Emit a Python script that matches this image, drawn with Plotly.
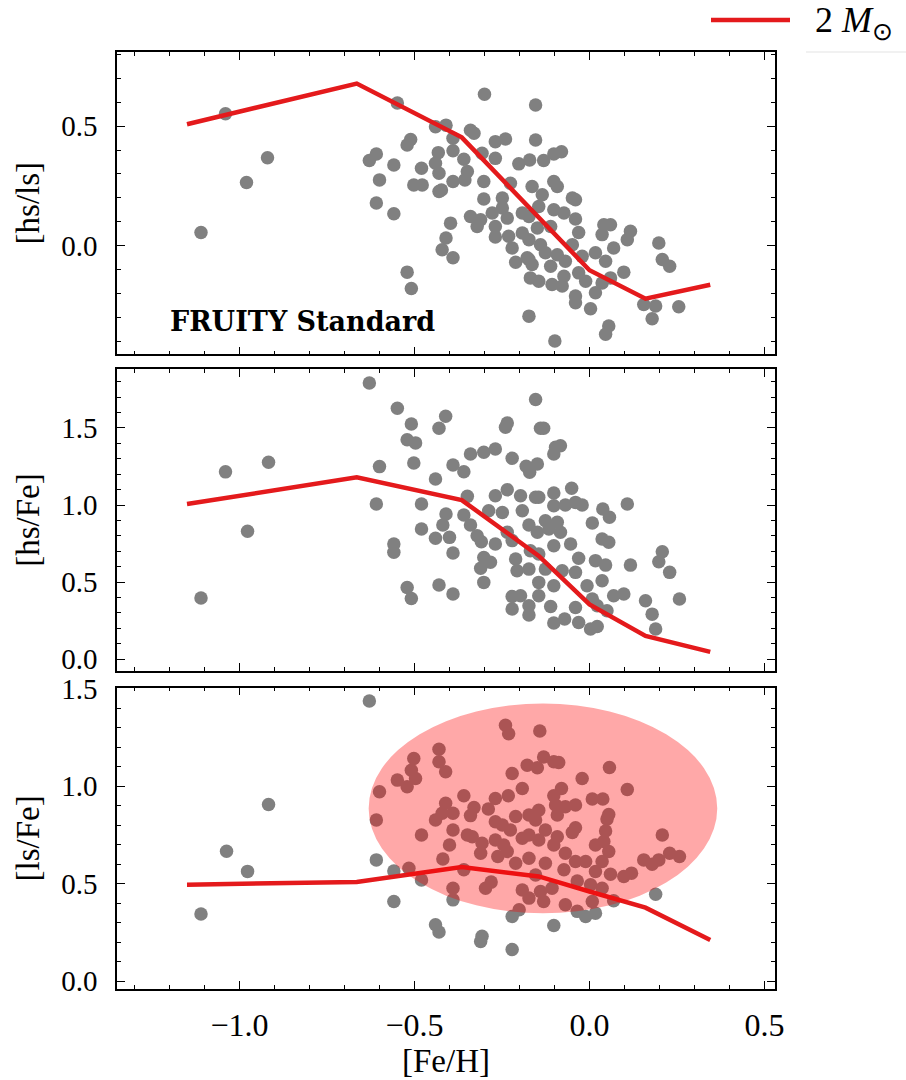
import plotly.graph_objects as go

# ---------------- observed stars ----------------
# top panel: [Fe/H] vs [hs/ls]
feh_top = [-1.11, -1.04, -0.98, -0.92,
           -0.549, -0.30, -0.154, -0.44, -0.41, -0.34, -0.33, -0.511, -0.521, -0.39, -0.269, -0.24,
           -0.154, -0.609, -0.629, -0.559, -0.432, -0.39, -0.44, -0.359, -0.307, -0.269, -0.202,
           -0.171, -0.48, -0.43, -0.349, -0.60, -0.502, -0.478, -0.423, -0.43, -0.39, -0.356,
           -0.302, -0.226, -0.164, -0.609, -0.559, -0.302, -0.249, -0.34, -0.311, -0.321, -0.278,
           -0.269, -0.235, -0.249, -0.192, -0.397, -0.269, -0.231, -0.192, -0.173, -0.41, -0.421,
           -0.39, -0.221, -0.211, -0.178, -0.169, -0.521, -0.509, -0.173, -0.164,
           -0.131, -0.102, -0.08, -0.135, -0.102, -0.092, -0.049, -0.04, -0.145, -0.102, -0.073,
           -0.04, -0.173, -0.149, -0.111, -0.031, 0.041, 0.06, 0.036, 0.117, 0.108, 0.198, -0.14,
           -0.173, -0.126, -0.092, -0.049, -0.111, -0.069, -0.021, 0.017, 0.046, 0.069, 0.098,
           0.208, 0.229, -0.145, -0.107, -0.073, -0.078, -0.031, -0.011, -0.04, -0.04, 0.003,
           0.017, 0.036, 0.06, 0.055, 0.046, -0.099, 0.155, 0.189, 0.179, 0.255]
hsls_top = [0.055, 0.552, 0.264, 0.368,
            0.597, 0.633, 0.588, 0.497, 0.504, 0.483, 0.47, 0.444, 0.421, 0.449, 0.435, 0.446,
            0.442, 0.383, 0.356, 0.337, 0.389, 0.397, 0.345, 0.361, 0.386, 0.365, 0.342,
            0.358, 0.324, 0.303, 0.31, 0.275, 0.254, 0.254, 0.233, 0.226, 0.268, 0.275,
            0.268, 0.261, 0.247, 0.178, 0.133, 0.195, 0.199, 0.122, 0.108, 0.08, 0.136,
            0.08, 0.115, 0.157, 0.136, 0.094, 0.036, 0.039, 0.053, 0.025, 0.032, -0.017,
            -0.051, -0.01, -0.07, -0.051, -0.135, -0.111, -0.179, -0.295, -0.079,
            0.356, 0.383, 0.393, 0.213, 0.268, 0.247, 0.199, 0.192, 0.164, 0.15, 0.136,
            0.111, 0.122, 0.074, 0.08, 0.055, 0.087, 0.087, 0.046, 0.06, 0.025, 0.011, 0.004,
            -0.058, -0.03, -0.038, 0.004, -0.086, -0.065, -0.045, -0.03, -0.065, -0.01, -0.111,
            -0.058, -0.086, -0.149, -0.163, -0.128, -0.169, -0.114, -0.149, -0.211, -0.239, -0.264,
            -0.197, -0.156, -0.135, -0.336, -0.371, -0.399, -0.246, -0.253, -0.306, -0.256]

# middle panel: [Fe/H] vs [hs/Fe]
feh_mid = [-1.11, -1.04, -0.977, -0.917,
           -0.629, -0.549, -0.509, -0.43, -0.411, -0.521, -0.497, -0.235, -0.24, -0.154, -0.60,
           -0.502, -0.39, -0.359, -0.34, -0.302, -0.269, -0.221, -0.181, -0.171, -0.44, -0.609,
           -0.48, -0.349, -0.269, -0.235, -0.197, -0.154, -0.41, -0.359, -0.34, -0.288, -0.249,
           -0.192, -0.173, -0.48, -0.419, -0.44, -0.40, -0.321, -0.309, -0.269, -0.235, -0.221,
           -0.559, -0.559, -0.39, -0.302, -0.283, -0.311, -0.211, -0.207, -0.173, -0.302, -0.521,
           -0.509, -0.43, -0.39, -0.221, -0.197, -0.221, -0.173, -0.173,
           -0.14, -0.131, -0.097, -0.083, -0.102, -0.149, -0.145, -0.102, -0.051, -0.102, -0.069,
           -0.04, -0.021, 0.038, 0.057, 0.008, 0.108, -0.126, -0.092, -0.116, -0.083, -0.149,
           -0.102, -0.054, 0.036, 0.055, -0.169, -0.145, -0.031, 0.017, 0.046, 0.117, 0.208,
           0.198, 0.229, -0.126, -0.078, -0.04, -0.145, -0.102, -0.007, 0.036, 0.069, 0.098,
           0.008, -0.145, -0.111, -0.04, 0.022, 0.05, -0.102, -0.071, -0.031, 0.003, 0.022,
           0.16, 0.179, 0.189, 0.257]
hsfe_mid = [0.396, 1.215, 0.83, 1.278,
            1.792, 1.628, 1.526, 1.498, 1.576, 1.424, 1.403, 1.532, 1.504, 1.684, 1.249,
            1.273, 1.26, 1.216, 1.331, 1.342, 1.364, 1.303, 1.251, 1.212, 1.169, 1.006,
            1.006, 1.056, 1.06, 1.099, 1.06, 1.05, 0.942, 0.935, 0.87, 0.963, 0.952,
            0.963, 0.87, 0.844, 0.87, 0.784, 0.79, 0.801, 0.762, 0.747, 0.823, 0.769,
            0.747, 0.693, 0.688, 0.66, 0.628, 0.589, 0.649, 0.573, 0.584, 0.498, 0.465,
            0.394, 0.481, 0.422, 0.407, 0.411, 0.325, 0.346, 0.286,
            1.498, 1.498, 1.375, 1.385, 1.331, 1.266, 1.05, 1.078, 1.108, 0.995, 1.0,
            1.017, 1.0, 0.974, 0.92, 0.883, 1.006, 0.898, 0.888, 0.844, 0.823, 0.823,
            0.736, 0.747, 0.779, 0.758, 0.703, 0.682, 0.654, 0.639, 0.61, 0.61, 0.697,
            0.632, 0.563, 0.584, 0.573, 0.563, 0.498, 0.476, 0.476, 0.509, 0.411, 0.422,
            0.39, 0.411, 0.342, 0.335, 0.346, 0.314, 0.234, 0.26, 0.238, 0.195, 0.212,
            0.379, 0.292, 0.195, 0.39]

# bottom panel: [Fe/H] vs [ls/Fe]
feh_bot = [-1.11, -1.037, -0.977, -0.917, -0.629,
           -0.24, -0.231, -0.43, -0.43, -0.411, -0.502, -0.509, -0.549, -0.521, -0.497, -0.60,
           -0.609, -0.221, -0.178, -0.192, -0.232, -0.269, -0.359, -0.411, -0.39, -0.33, -0.34,
           -0.289, -0.44, -0.421, -0.39, -0.48, -0.269, -0.249, -0.226, -0.211, -0.173, -0.349,
           -0.335, -0.307, -0.269, -0.245, -0.192, -0.173, -0.40, -0.311, -0.262, -0.235, -0.211,
           -0.173, -0.419, -0.609, -0.559, -0.516, -0.48, -0.359, -0.39, -0.297, -0.281, -0.192,
           -0.173, -0.559, -0.39, -0.201, -0.221, -0.44, -0.43, -0.307, -0.311, -0.221,
           -0.142, -0.131, -0.102, -0.088, -0.149, 0.057, -0.021, 0.108, -0.08, -0.102, 0.008,
           0.038, -0.145, -0.097, -0.069, -0.04, -0.154, -0.092, 0.055, 0.05, 0.046, -0.049,
           -0.04, -0.126, 0.208, -0.145, -0.092, -0.102, 0.041, 0.017, 0.055, -0.069, -0.126,
           -0.04, -0.011, 0.036, 0.155, 0.179, 0.198, 0.229, 0.257, -0.073, -0.154, 0.017,
           0.06, 0.098, 0.12, -0.035, -0.107, 0.003, 0.036, -0.14, -0.131, -0.069, 0.008,
           0.069, 0.189, -0.035, -0.011, 0.017, -0.102]
lsfe_bot = [0.344, 0.666, 0.563, 0.906, 1.437,
            1.312, 1.269, 1.189, 1.125, 1.074, 1.142, 1.082, 1.031, 0.997, 1.039, 0.971,
            0.826, 1.065, 1.107, 0.988, 0.951, 0.937, 0.951, 0.912, 0.861, 0.89, 0.849,
            0.883, 0.826, 0.861, 0.775, 0.75, 0.818, 0.801, 0.775, 0.844, 0.852, 0.75,
            0.741, 0.707, 0.724, 0.698, 0.733, 0.75, 0.698, 0.656, 0.639, 0.665, 0.605,
            0.63, 0.627, 0.622, 0.565, 0.579, 0.519, 0.571, 0.477, 0.477, 0.508, 0.468,
            0.426, 0.409, 0.417, 0.366, 0.332, 0.289, 0.252, 0.23, 0.204, 0.162,
            1.283, 1.15, 1.125, 1.121, 1.094, 1.096, 1.039, 0.983, 0.988, 0.951, 0.934,
            0.934, 0.877, 0.903, 0.895, 0.903, 0.826, 0.852, 0.855, 0.831, 0.77, 0.763,
            0.787, 0.775, 0.75, 0.724, 0.741, 0.698, 0.716, 0.698, 0.665, 0.656, 0.605,
            0.614, 0.614, 0.614, 0.622, 0.6, 0.622, 0.656, 0.639, 0.571, 0.545, 0.562,
            0.548, 0.537, 0.554, 0.514, 0.477, 0.494, 0.477, 0.46, 0.409, 0.392, 0.409,
            0.412, 0.446, 0.358, 0.332, 0.349, 0.286]

# ---------------- FRUITY standard 2 Msun model ----------------
feh_model = [-1.15, -0.665, -0.365, -0.145, 0.0, 0.16, 0.345]
hsls_model = [0.508, 0.678, 0.453, 0.12, -0.103, -0.222, -0.164]
hsfe_model = [1.006, 1.18, 1.032, 0.67, 0.355, 0.151, 0.047]
lsfe_model = [0.495, 0.509, 0.585, 0.537, 0.46, 0.377, 0.211]

# highlighted region in the [ls/Fe] panel (centre and semi-axes)
ell_center = (-0.133, 0.886)
ell_semi = (0.498, 0.538)

GRAY = "#808080"
RED = "#e41a1c"
FONT = "Liberation Serif"

fig = go.Figure()

panels = [
    (feh_top, hsls_top, hsls_model, "x", "y"),
    (feh_mid, hsfe_mid, hsfe_model, "x2", "y2"),
    (feh_bot, lsfe_bot, lsfe_model, "x3", "y3"),
]
for i, (fx, fy, my, xa, ya) in enumerate(panels):
    fig.add_trace(go.Scatter(x=fx, y=fy, mode="markers", xaxis=xa, yaxis=ya,
                             marker=dict(color=GRAY, size=13.5, line=dict(width=0)),
                             showlegend=False, hoverinfo="skip"))
    fig.add_trace(go.Scatter(x=feh_model, y=my, mode="lines", xaxis=xa, yaxis=ya,
                             line=dict(color=RED, width=4.5),
                             name="2 <i>M</i><sub>⊙</sub>", showlegend=False))

common_x = dict(range=[-1.35, 0.53], showline=True, linecolor="black", linewidth=1.5,
                mirror="allticks", ticks="inside", ticklen=8, tickwidth=1.2,
                tickcolor="black", dtick=0.5, tick0=0, showgrid=False, zeroline=False,
                tickformat=".1f",
                minor=dict(ticks="inside", ticklen=4, tickwidth=1, dtick=0.1, tick0=0,
                           tickcolor="black", showgrid=False),
                tickfont=dict(family=FONT, size=32, color="black"))
common_y = dict(showline=True, linecolor="black", linewidth=1.5, mirror="allticks",
                ticks="inside", ticklen=8, tickwidth=1.2, tickcolor="black", dtick=0.5,
                tick0=0, showgrid=False, zeroline=False, tickformat=".1f",
                minor=dict(ticks="inside", ticklen=4, tickwidth=1, dtick=0.1, tick0=0,
                           tickcolor="black", showgrid=False),
                ticklabelstandoff=12,
                tickfont=dict(family=FONT, size=29, color="black"))
title_font = dict(family=FONT, size=33, color="black")

fig.update_layout(
    width=906, height=1080,
    margin=dict(l=117, r=131, t=52, b=89),
    paper_bgcolor="white", plot_bgcolor="white",
    showlegend=False,
    xaxis=dict(common_x, anchor="y", matches="x3", showticklabels=False),
    xaxis2=dict(common_x, anchor="y2", matches="x3", showticklabels=False),
    xaxis3=dict(common_x, anchor="y3", ticklabelstandoff=7,
                title=dict(text="[Fe/H]", font=title_font, standoff=2)),
    yaxis=dict(common_y, anchor="x", domain=[0.6773, 1.0], range=[-0.455, 0.81],
               tickvals=[0.0, 0.5],
               title=dict(text="[hs/ls]", font=title_font, standoff=12)),
    yaxis2=dict(common_y, anchor="x2", domain=[0.3397, 0.6613], range=[-0.075, 1.88],
                title=dict(text="[hs/Fe]", font=title_font, standoff=12)),
    yaxis3=dict(common_y, anchor="x3", domain=[0.0, 0.3216], range=[-0.04, 1.505],
                title=dict(text="[ls/Fe]", font=title_font, standoff=12)),
)

# translucent ellipse over the bulk of the stars
cx, cy = ell_center
ax_, ay_ = ell_semi
fig.add_shape(type="circle", xref="x3", yref="y3",
              x0=cx - ax_, x1=cx + ax_, y0=cy - ay_, y1=cy + ay_,
              fillcolor="rgba(255,0,0,0.34)", line=dict(width=0), layer="above")

# model label in the top panel
fig.add_annotation(x=-1.205, y=-0.317, xref="x", yref="y", xanchor="left", yanchor="middle",
                   text="<b>FRUITY Standard</b>", showarrow=False,
                   font=dict(family="DejaVu Serif", size=27, color="black"))

# legend entry for the model track
fig.add_shape(type="line", xref="paper", yref="paper",
              x0=(711 - 117) / 658, x1=(790 - 117) / 658,
              y0=(991 - 20) / 939, y1=(991 - 20) / 939,
              line=dict(color=RED, width=4.5))
fig.add_annotation(x=(813 - 117) / 658, y=(991 - 22) / 939, xref="paper", yref="paper",
                   xanchor="left", yanchor="middle", showarrow=False,
                   text="2 <i>M</i><sub>⊙</sub>",
                   font=dict(family=FONT, size=36, color="black"))
fig.add_shape(type="line", xref="paper", yref="paper",
              x0=(806 - 117) / 658, x1=(906 - 117) / 658,
              y0=(991 - 52) / 939, y1=(991 - 52) / 939,
              line=dict(color="#e3e3e3", width=1))

fig.write_html("out.html")
